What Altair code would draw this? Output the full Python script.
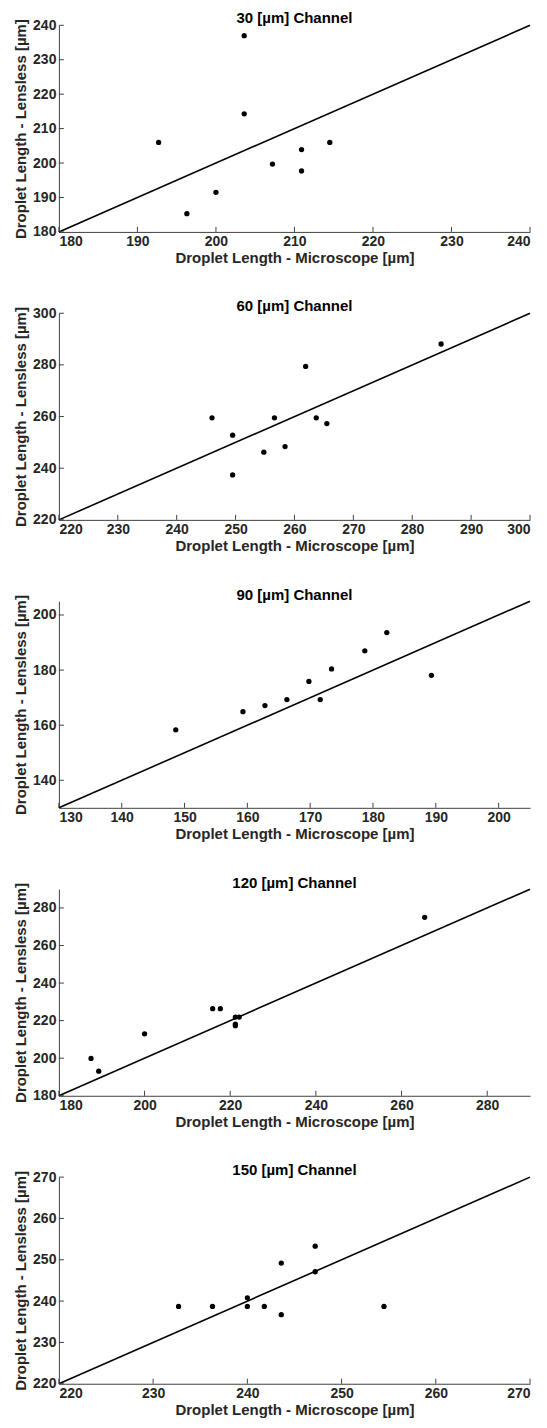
import altair as alt
import pandas as pd

# ---- data ----
titles = ["30 [µm] Channel", "60 [µm] Channel", "90 [µm] Channel",
          "120 [µm] Channel", "150 [µm] Channel"]

x30 = [192.7, 196.3, 200.0, 203.6, 203.6, 207.2, 210.9, 210.9, 214.5]
y30 = [206.0, 185.3, 191.5, 237.0, 214.3, 199.7, 203.9, 197.7, 206.0]

x60 = [246.0, 249.5, 249.5, 254.8, 256.6, 258.4, 261.9, 263.7, 265.5, 284.9]
y60 = [259.5, 252.8, 237.4, 246.2, 259.5, 248.4, 279.4, 259.5, 257.3, 288.1]

x90 = [148.6, 159.3, 162.8, 166.3, 169.8, 171.6, 173.4, 178.7, 182.2, 189.3]
y90 = [158.3, 164.9, 167.1, 169.3, 175.9, 169.3, 180.4, 187.0, 193.6, 178.1]

x120 = [187.5, 189.3, 200.0, 215.9, 217.7, 221.2, 222.1, 221.2, 221.2, 265.4]
y120 = [199.9, 193.1, 213.0, 226.4, 226.4, 221.9, 221.9, 218.2, 217.3, 275.0]

x150 = [232.7, 236.3, 240.0, 240.0, 241.8, 243.6, 243.6, 247.2, 247.2, 254.5]
y150 = [238.7, 238.7, 240.8, 238.7, 238.7, 249.2, 236.7, 253.3, 247.1, 238.7]

domains = [(180, 240), (220, 300), (130, 205), (180, 290), (220, 270)]
xticks = [
    [180, 190, 200, 210, 220, 230, 240],
    [220, 230, 240, 250, 260, 270, 280, 290, 300],
    [130, 140, 150, 160, 170, 180, 190, 200],
    [180, 200, 220, 240, 260, 280],
    [220, 230, 240, 250, 260, 270],
]
yticks = [
    [180, 190, 200, 210, 220, 230, 240],
    [220, 240, 260, 280, 300],
    [140, 160, 180, 200],
    [180, 200, 220, 240, 260, 280],
    [220, 230, 240, 250, 260, 270],
]
xs_all = [x30, x60, x90, x120, x150]
ys_all = [y30, y60, y90, y120, y150]

X_TITLE = "Droplet Length - Microscope [µm]"
Y_TITLE = "Droplet Length - Lensless [µm]"

W, H = 472, 207
TICK = 5
AXCOL = "#404040"


def panel(i):
    lo, hi = domains[i]
    sc = alt.Scale(domain=[lo, hi], nice=False, zero=False)
    xaxis = alt.Axis(title=X_TITLE, values=xticks[i], ticks=False, grid=False,
                     labelPadding=3, titlePadding=2, format="d")
    yaxis = alt.Axis(title=Y_TITLE, values=yticks[i], ticks=False, grid=False,
                     labelPadding=3, titlePadding=4, format="d")
    pts_df = pd.DataFrame({"x": xs_all[i], "y": ys_all[i]})
    diag_df = pd.DataFrame({"v": [lo, hi]})
    xt_df = pd.DataFrame({"t": xticks[i]})
    yt_df = pd.DataFrame({"t": yticks[i]})

    diag = alt.Chart(diag_df).mark_line(color="black", strokeWidth=1.6).encode(
        x=alt.X("v:Q", scale=sc, axis=xaxis),
        y=alt.Y("v:Q", scale=sc, axis=yaxis),
    )
    pts = alt.Chart(pts_df).mark_circle(size=28, color="black", opacity=1).encode(
        x=alt.X("x:Q", scale=sc, axis=xaxis),
        y=alt.Y("y:Q", scale=sc, axis=yaxis),
    )
    xt = alt.Chart(xt_df).mark_rule(color=AXCOL, strokeWidth=1).encode(
        x=alt.X("t:Q", scale=sc, axis=xaxis),
        y=alt.value(H), y2=alt.value(H - TICK),
    )
    yt = alt.Chart(yt_df).mark_rule(color=AXCOL, strokeWidth=1).encode(
        y=alt.Y("t:Q", scale=sc, axis=yaxis),
        x=alt.value(0), x2=alt.value(TICK),
    )
    return alt.layer(diag, pts, xt, yt).properties(
        width=W, height=H,
        title=alt.TitleParams(titles[i], fontSize=15, fontWeight="bold",
                              color="black", offset=-8, anchor="middle",
                              frame="group"),
    )


chart = alt.vconcat(*[panel(i) for i in range(5)], spacing=33.5).configure(
    font="Liberation Sans",
    padding={"left": 5, "top": 2, "right": 5, "bottom": 2},
).configure_view(stroke=None).configure_axis(
    domainColor=AXCOL, domainWidth=1,
    labelFont="Liberation Sans", labelFontSize=14, labelFontWeight="bold",
    labelColor="#262626",
    titleFont="Liberation Sans", titleFontSize=15, titleFontWeight="bold",
    titleColor="#262626",
)

chart.save("out.html", embed_options={"renderer": "svg", "actions": False})
